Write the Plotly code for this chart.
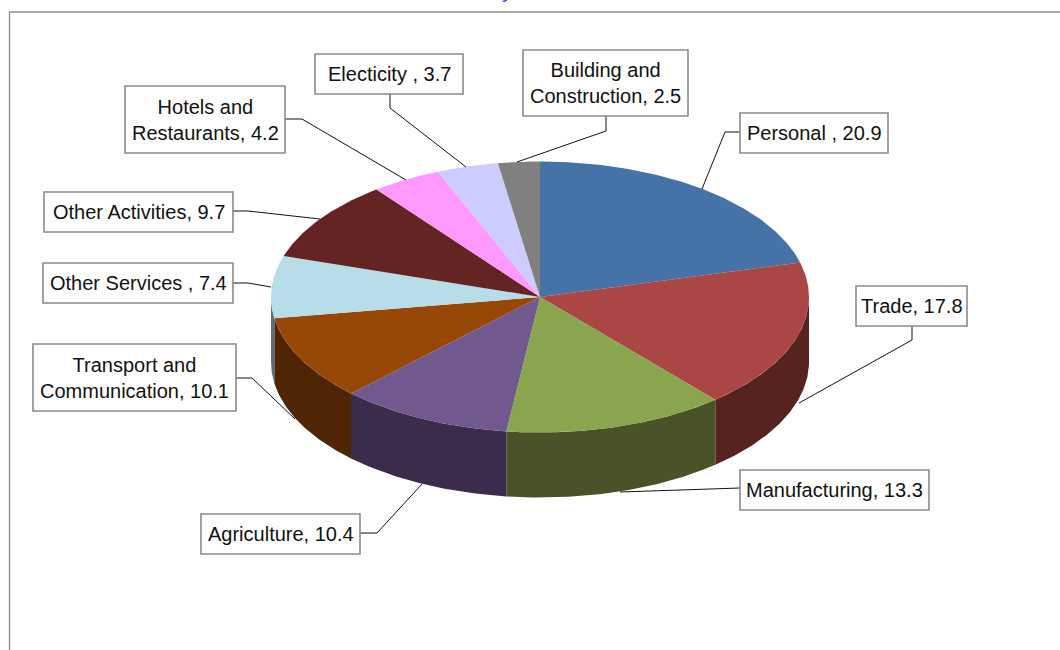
import numpy as np
import plotly.graph_objects as go

# ---- data ----
categories = ["Personal", "Trade", "Manufacturing", "Agriculture",
              "Transport and Communication", "Other Services", "Other Activities",
              "Hotels and Restaurants", "Electicity", "Building and Construction"]
values = [20.9, 17.8, 13.3, 10.4, 10.1, 7.4, 9.7, 4.2, 3.7, 2.5]
label_texts = ["Personal , 20.9", "Trade, 17.8", "Manufacturing, 13.3", "Agriculture, 10.4",
               "Transport and<br>Communication, 10.1", "Other Services , 7.4",
               "Other Activities, 9.7", "Hotels and<br>Restaurants, 4.2",
               "Electicity , 3.7", "Building and<br>Construction, 2.5"]

# ---- style / layout ----
top_colors = ["#4572A7", "#AA4643", "#89A54E", "#71588F", "#974706",
              "#B7DEE8", "#632423", "#FF99FF", "#CCCCFF", "#808080"]
side_colors = ["#2A4465", "#572321", "#4A5227", "#3A2C4A", "#4F2504",
               "#5B6F74", "#3A1514", "#995C99", "#7A7A99", "#4D4D4D"]
CX, CY, RX, RY, DEPTH = 540, 297, 269, 135.5, 65
boxes = [(740, 113, 888, 153), (856, 286, 967, 326), (740, 470, 929, 510), (201, 514, 360, 554),
         (33, 344, 236, 411), (43, 263, 233, 303), (44, 192, 233, 232), (125, 86, 285, 153),
         (315, 54, 463, 94), (523, 50, 688, 116)]
leaders = [[(740, 132), (725, 132), (702, 189)],
           [(912, 326), (912, 340), (799, 403)],
           [(740, 488), (620, 492)],
           [(360, 533), (377, 533), (422, 484)],
           [(236, 378), (252, 378), (295, 419)],
           [(233, 283), (248, 283), (271, 287)],
           [(233, 211), (248, 211), (320, 219)],
           [(285, 119), (302, 119), (406, 180)],
           [(390, 94), (390, 108), (466, 167)],
           [(606, 116), (606, 131), (517, 162)]]
BORDER = "#8A8A8A"
FONT = dict(family="Liberation Sans, Arial, sans-serif", size=20, color="#111111")


def ellipse_pts(frac0, frac1, dy=0.0):
    """Points on the tilted rim between two cumulative fractions (clockwise from top)."""
    n = max(2, int(abs(frac1 - frac0) * 720))
    t = np.linspace(frac0, frac1, n) * 2 * np.pi
    return CX + RX * np.sin(t), CY - RY * np.cos(t) + dy


edges = np.concatenate([[0], np.cumsum(values)]) / np.sum(values)
fig = go.Figure()

# side walls: only the front half of the rim (fractions 0.25 to 0.75) is visible
for i, name in enumerate(categories):
    a, b = max(edges[i], 0.25), min(edges[i + 1], 0.75)
    if a >= b:
        continue
    x0, y0 = ellipse_pts(a, b)
    x1, y1 = ellipse_pts(b, a, DEPTH)
    fig.add_trace(go.Scatter(x=np.r_[x0, x1, x0[0]], y=np.r_[y0, y1, y0[0]], mode="lines",
                             fill="toself", fillcolor=side_colors[i], line=dict(width=0),
                             name=name, hoverinfo="skip", showlegend=False))

# top face
for i, name in enumerate(categories):
    x0, y0 = ellipse_pts(edges[i], edges[i + 1])
    fig.add_trace(go.Scatter(x=np.r_[CX, x0, CX], y=np.r_[CY, y0, CY], mode="lines",
                             fill="toself", fillcolor=top_colors[i], line=dict(width=0),
                             name=name, hovertemplate="%{fullData.name}<extra></extra>",
                             showlegend=False))

shapes = [
    dict(type="line", x0=9.5, x1=9.5, y0=650, y1=12, line=dict(color=BORDER, width=1.3)),
    dict(type="line", x0=9, x1=1060, y0=12, y1=12, line=dict(color=BORDER, width=1.3)),
]
for pts in leaders:
    path = "M " + " L ".join(f"{x} {y}" for x, y in pts)
    shapes.append(dict(type="path", path=path, line=dict(color="#111111", width=1)))
for (x0, y0, x1, y1) in boxes:
    shapes.append(dict(type="rect", x0=x0, y0=y0, x1=x1, y1=y1, fillcolor="white",
                       line=dict(color=BORDER, width=1.6)))

annotations = [dict(x=(b[0] + b[2]) / 2, y=(b[1] + b[3]) / 2, text=t, showarrow=False,
                    xanchor="center", yanchor="middle", align="center", font=FONT)
               for b, t in zip(boxes, label_texts)]
annotations.append(dict(x=507, y=4, text="y", showarrow=False, xanchor="center", yanchor="bottom",
                        font=dict(family=FONT["family"], size=22, color="#2F45FF")))

fig.update_layout(
    width=1060, height=650, margin=dict(l=0, r=0, t=0, b=0),
    paper_bgcolor="white", plot_bgcolor="white", shapes=shapes, annotations=annotations,
    xaxis=dict(range=[0, 1060], visible=False, fixedrange=True),
    yaxis=dict(range=[650, 0], visible=False, fixedrange=True),
)
fig.write_html("out.html", config=dict(displayModeBar=False),
               post_script="document.body.style.margin='0';")
